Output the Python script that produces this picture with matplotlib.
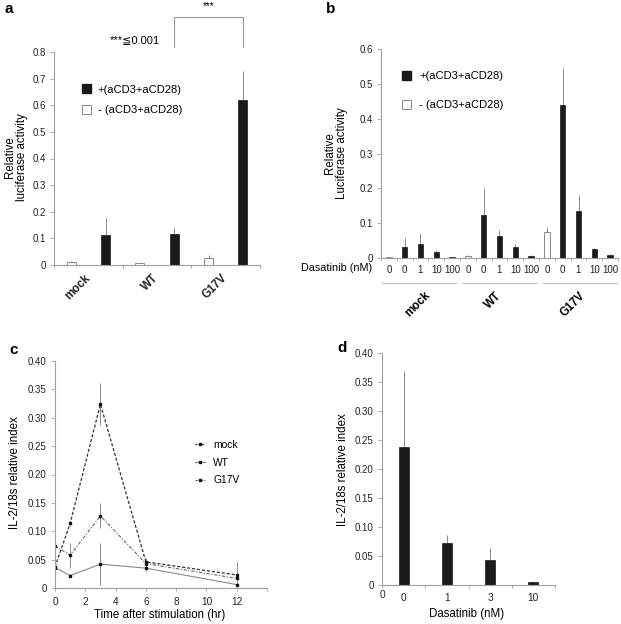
import matplotlib
matplotlib.use('Agg')
import matplotlib.pyplot as plt
from matplotlib.patches import Patch
from matplotlib.lines import Line2D
import numpy as np

plt.rcParams['font.family'] = ['Liberation Sans', 'DejaVu Sans']

# ---------------- data ----------------
a_groups = ['mock', 'WT', 'G17V']
a_minus = [0.012, 0.008, 0.028]
a_minus_err = [0.003, 0.004, 0.009]
a_plus = [0.112, 0.118, 0.618]
a_plus_err = [0.065, 0.020, 0.110]
a_yticks = [0, 0.1, 0.2, 0.3, 0.4, 0.5, 0.6, 0.7, 0.8]

b_groups = ['mock', 'WT', 'G17V']
b_dasatinib = ['0', '0', '1', '10', '100'] * 3
b_stim = [False, True, True, True, True] * 3
b_vals = [0.003, 0.032, 0.041, 0.016, 0.003,
          0.006, 0.123, 0.062, 0.033, 0.006,
          0.076, 0.440, 0.135, 0.026, 0.010]
b_err = [0.001, 0.024, 0.032, 0.007, 0.001,
         0.002, 0.078, 0.018, 0.006, 0.003,
         0.012, 0.105, 0.046, 0.004, 0.001]
b_yticks = [0, 0.1, 0.2, 0.3, 0.4, 0.5, 0.6]

c_time = [0, 1, 3, 6, 12]
c_mock = [0.037, 0.114, 0.324, 0.046, 0.023]
c_mock_err = [0.004, 0.004, 0.037, 0.006, 0.022]
c_wt = [0.036, 0.022, 0.042, 0.035, 0.006]
c_wt_err = [0.006, 0.003, 0.037, 0.005, 0.003]
c_g17v = [0.074, 0.058, 0.127, 0.043, 0.017]
c_g17v_err = [0.008, 0.022, 0.022, 0.005, 0.004]
c_yticks = [0, 0.05, 0.10, 0.15, 0.20, 0.25, 0.30, 0.35, 0.40]
c_xticks = [0, 2, 4, 6, 8, 10, 12]

d_doses = ['0', '1', '3', '10']
d_vals = [0.238, 0.072, 0.043, 0.005]
d_err = [0.131, 0.015, 0.021, 0.0015]
d_yticks = [0, 0.05, 0.10, 0.15, 0.20, 0.25, 0.30, 0.35, 0.40]

# ---------------- style ----------------
W, H = 621, 624
fig = plt.figure(figsize=(W / 100, H / 100), dpi=100)
TICK = 7.0
LAB = 8.3
LEG = 8.0
SPINE = '#a0a0a0'
BLACK = '#1a1a1a'
ERR = '#8a8a8a'


def px_axes(l, r, t, b):
    return fig.add_axes([l / W, 1 - b / H, (r - l) / W, (b - t) / H])


def base_style(ax):
    for s in ['top', 'right']:
        ax.spines[s].set_visible(False)
    for s in ['left', 'bottom']:
        ax.spines[s].set_color(SPINE)
        ax.spines[s].set_linewidth(0.8)
    ax.tick_params(axis='y', which='major', length=3, width=0.6, color=SPINE,
                   labelsize=TICK, pad=3, labelcolor='#222')
    ax.tick_params(axis='x', which='both', color=SPINE, width=0.6,
                   labelsize=TICK, labelcolor='#222')


def fmt0(v, nd):
    return '0' if v == 0 else f'{v:.{nd}f}'

# ---------------- panel a ----------------
axa = px_axes(54, 260, 52, 265)
base_style(axa)
xa = np.arange(len(a_groups))
wa = 0.13
axa.bar(xa - 0.25, a_minus, wa, color='white', edgecolor='#888', linewidth=0.7, zorder=2)
axa.bar(xa + 0.25, a_plus, wa, color=BLACK, edgecolor=BLACK, linewidth=0.5, zorder=2)
axa.errorbar(xa - 0.25, a_minus, yerr=[np.zeros(3), a_minus_err], fmt='none',
             ecolor=ERR, elinewidth=0.7, zorder=1)
axa.errorbar(xa + 0.25, a_plus, yerr=[np.zeros(3), a_plus_err], fmt='none',
             ecolor=ERR, elinewidth=0.7, zorder=1)
axa.set_xlim(-0.5, 2.5)
axa.set_ylim(0, 0.8)
axa.set_yticks(a_yticks)
axa.set_yticklabels([fmt0(v, 1) for v in a_yticks])
axa.set_xticks(xa)
axa.set_xticks(np.arange(-0.5, 2.51, 0.5), minor=True)
axa.tick_params(axis='x', which='major', length=0, pad=8, labelsize=8.3)
axa.tick_params(axis='x', which='minor', length=2)
axa.set_xticklabels(a_groups, fontweight='bold')
plt.setp(axa.get_xticklabels(), rotation=45, ha='right', va='center',
         rotation_mode='anchor')
axa.set_ylabel('Relative\nluciferase activity', fontsize=LAB, va='center',
               linespacing=1.05)
axa.yaxis.set_label_coords(-0.184, 0.507)
axa.legend(handles=[Patch(facecolor=BLACK, edgecolor=BLACK),
                    Patch(facecolor='white', edgecolor='#888', linewidth=0.7)],
           labels=['+(aCD3+aCD28)', '- (aCD3+aCD28)'],
           loc='upper left', bbox_to_anchor=(0.136, 0.848), frameon=False,
           fontsize=LEG, handlelength=0.85, handleheight=0.85, handletextpad=0.55,
           labelspacing=0.95, borderpad=0, borderaxespad=0)
# significance bracket
bx0, bx1 = xa[1] + 0.25, xa[2] + 0.25
axa.plot([bx0, bx0, bx1, bx1], [0.819, 0.931, 0.931, 0.819], color='#999',
         lw=0.8, clip_on=False)
axa.text((bx0 + bx1) / 2, 0.955, '***', ha='center', va='bottom', fontsize=7)
fig.text(135 / W, 1 - 40 / H, '***≦0.001', ha='center', va='center', fontsize=8)

# ---------------- panel b ----------------
axb = px_axes(381, 618, 49, 258)
base_style(axb)
xb = np.arange(len(b_vals))
wb = 0.34
for i in range(len(b_vals)):
    if b_stim[i]:
        axb.bar(xb[i], b_vals[i], wb, color=BLACK, edgecolor=BLACK, linewidth=0.5, zorder=2)
    else:
        axb.bar(xb[i], b_vals[i], wb, color='white', edgecolor='#888', linewidth=0.7, zorder=2)
axb.errorbar(xb, b_vals, yerr=[np.zeros(len(b_vals)), b_err], fmt='none',
             ecolor=ERR, elinewidth=0.7, zorder=1)
axb.set_xlim(-0.5, 14.5)
axb.set_ylim(0, 0.6)
axb.set_yticks(b_yticks)
axb.set_yticklabels([fmt0(v, 1) for v in b_yticks])
axb.set_xticks(xb)
axb.set_xticklabels(b_dasatinib)
axb.set_xticks(np.arange(-0.5, 14.51, 1), minor=True)
axb.tick_params(axis='x', which='major', length=0, pad=5, labelsize=TICK)
axb.tick_params(axis='x', which='minor', length=2)
axb.set_ylabel('Relative\nLuciferase activity', fontsize=LAB, va='center',
               linespacing=1.05)
axb.yaxis.set_label_coords(-0.19, 0.502)
axb.legend(handles=[Patch(facecolor=BLACK, edgecolor=BLACK),
                    Patch(facecolor='white', edgecolor='#888', linewidth=0.7)],
           labels=['+(aCD3+aCD28)', '- (aCD3+aCD28)'],
           loc='upper left', bbox_to_anchor=(0.088, 0.896), frameon=False,
           fontsize=LEG, handlelength=0.85, handleheight=0.85, handletextpad=0.7,
           labelspacing=1.7, borderpad=0, borderaxespad=0)
xt = axb.get_xaxis_transform()
b_centers = [1.9, 7.0, 12.1]
b_label_x = [2.5, 7.0, 12.3]
for c, lx, g in zip(b_centers, b_label_x, b_groups):
    axb.plot([c - 2.35, c + 2.35], [-0.12, -0.12], transform=xt, color='#c0c0c0',
             lw=0.8, clip_on=False)
    axb.text(lx, -0.172, g, transform=xt, rotation=45, ha='right', va='center',
             rotation_mode='anchor', fontweight='bold', fontsize=8.3)
fig.text(372 / W, 1 - 268 / H, 'Dasatinib (nM)', ha='right', va='center',
         fontsize=7.8)

# ---------------- panel c ----------------
axc = px_axes(55, 267, 361, 588)
base_style(axc)
MS = 2.0
axc.errorbar(c_time, c_mock, yerr=c_mock_err, color='#333', ecolor='#777',
             elinewidth=0.6, lw=0.9, ls=(0, (2.5, 1.5)), marker='s', ms=MS,
             mfc='#111', mec='#111', label='mock')
axc.errorbar(c_time, c_wt, yerr=c_wt_err, color='#8a8a8a', ecolor='#777',
             elinewidth=0.6, lw=0.8, ls='-', marker='s', ms=MS,
             mfc='#111', mec='#111', label='WT')
axc.errorbar(c_time, c_g17v, yerr=c_g17v_err, color='#666', ecolor='#777',
             elinewidth=0.6, lw=0.8, ls=(0, (3, 1.5, 1, 1.5)), marker='s', ms=MS,
             mfc='#111', mec='#111', label='G17V')
axc.set_xlim(0, 14)
axc.set_ylim(0, 0.4)
axc.set_yticks(c_yticks)
axc.set_yticklabels([fmt0(v, 2) for v in c_yticks])
axc.set_xticks(c_xticks)
axc.set_xticks(c_xticks + [14], minor=True)
axc.tick_params(axis='x', which='major', length=2.5, pad=4, labelsize=TICK + 0.3)
axc.set_ylabel('IL-2/18s relative index', fontsize=LAB, va='center')
axc.yaxis.set_label_coords(-0.189, 0.507)
axc.set_xlabel('Time after stimulation (hr)', fontsize=LAB, va='center')
axc.xaxis.set_label_coords(0.495, -0.119)
leg_handles = [Line2D([], [], color='#333', lw=0.9, ls=(0, (1.5, 1.2)), marker='s',
                      ms=1.8, mfc='#111', mec='#111'),
               Line2D([], [], color='#8a8a8a', lw=0.8, ls='-', marker='s',
                      ms=1.8, mfc='#111', mec='#111'),
               Line2D([], [], color='#666', lw=0.8, ls=(0, (2, 1, 1, 1)), marker='s',
                      ms=1.8, mfc='#111', mec='#111')]
axc.legend(handles=leg_handles, labels=['mock', 'WT', 'G17V'], loc='upper left',
           bbox_to_anchor=(0.66, 0.652), frameon=False, fontsize=7.4,
           handlelength=1.0, handletextpad=0.8, labelspacing=0.75, borderpad=0,
           borderaxespad=0, numpoints=1)

# ---------------- panel d ----------------
axd = px_axes(382, 555, 353, 585)
base_style(axd)
xd = np.arange(len(d_vals))
axd.bar(xd, d_vals, 0.23, color=BLACK, edgecolor=BLACK, linewidth=0.5, zorder=2)
axd.errorbar(xd, d_vals, yerr=[np.zeros(len(d_vals)), d_err], fmt='none',
             ecolor=ERR, elinewidth=0.7, zorder=1)
axd.set_xlim(-0.5, 3.5)
axd.set_ylim(0, 0.4)
axd.set_yticks(d_yticks)
axd.set_yticklabels([fmt0(v, 2) for v in d_yticks])
axd.set_xticks(xd)
axd.set_xticklabels(d_doses)
axd.set_xticks(np.arange(-0.5, 3.51, 1), minor=True)
axd.tick_params(axis='x', which='major', length=0, pad=6, labelsize=TICK + 0.3)
axd.tick_params(axis='x', which='minor', length=2)
axd.text(-0.5, -0.043, '0', transform=axd.get_xaxis_transform(), ha='center',
         va='center', fontsize=TICK + 0.3, color='#222')
axd.set_ylabel('IL-2/18s relative index', fontsize=LAB, va='center')
axd.yaxis.set_label_coords(-0.225, 0.496)
axd.set_xlabel('Dasatinib (nM)', fontsize=LAB, va='center')
axd.xaxis.set_label_coords(0.49, -0.125)

# ---------------- panel letters ----------------
for lbl, x, y in [('a', 9, 9), ('b', 331, 9), ('c', 14, 350), ('d', 342, 348)]:
    fig.text(x / W, 1 - y / H, lbl, ha='center', va='center', fontsize=11,
             fontweight='bold')

fig.savefig('out.png', dpi=100)
